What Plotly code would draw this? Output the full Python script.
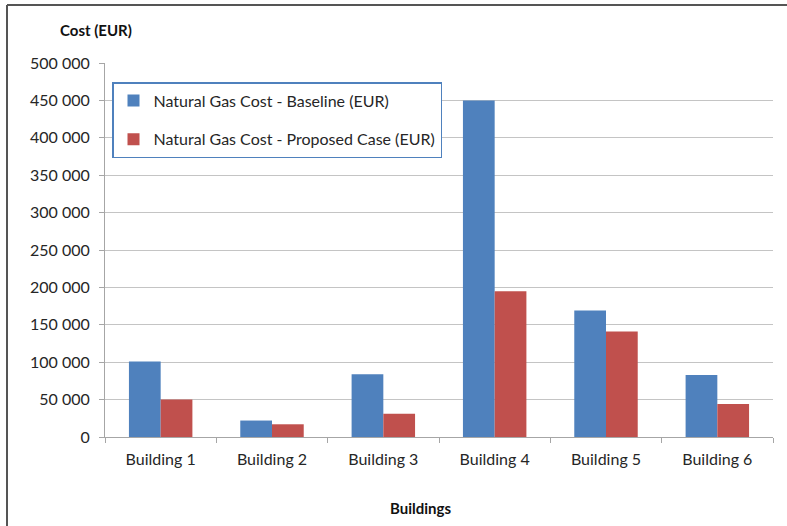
import plotly.graph_objects as go

categories = ["Building 1", "Building 2", "Building 3", "Building 4", "Building 5", "Building 6"]
baseline = [101000, 22000, 84000, 450000, 169000, 83000]
proposed = [50000, 17000, 31000, 195000, 141000, 44000]
series_names = ["Natural Gas Cost - Baseline (EUR)", "Natural Gas Cost - Proposed Case (EUR)"]
y_ticks = [0, 50000, 100000, 150000, 200000, 250000, 300000, 350000, 400000, 450000, 500000]

FONT = "Lato"
W, H = 787, 526
L, R, T, B = 105, 14, 63, 89
pw, ph = W - L - R, H - T - B

def px_x(p):
    return (p - L) / pw

def px_y(p):
    return 1 - (p - T) / ph

fig = go.Figure()
fig.add_trace(go.Bar(x=categories, y=baseline, name=series_names[0],
                     marker=dict(color="#4F81BD", line=dict(width=0)), legendgroup="a"))
fig.add_trace(go.Bar(x=categories, y=proposed, name=series_names[1],
                     marker=dict(color="#C0504D", line=dict(width=0)), legendgroup="b"))

fig.update_layout(
    width=W, height=H,
    margin=dict(l=L, r=R, t=T, b=B),
    paper_bgcolor="white", plot_bgcolor="white",
    barmode="group", bargap=0.43, bargroupgap=0,
    separators=". ",
    font=dict(family=FONT, size=16, color="#262626"),
    showlegend=True,
    legend=dict(x=px_x(112), y=px_y(82), xanchor="left", yanchor="top",
                bgcolor="white", bordercolor="#4F81BD", borderwidth=1.5,
                font=dict(family=FONT, size=16, color="#262626"),
                tracegroupgap=15, traceorder="grouped"),
    xaxis=dict(showgrid=False, showline=True, linecolor="#A6A6A6", linewidth=1,
               ticks="outside", tickson="boundaries", ticklen=5, tickcolor="#A6A6A6",
               ticklabelstandoff=8,
               tickfont=dict(family=FONT, size=16, color="#262626")),
    yaxis=dict(range=[0, 500000], tickvals=y_ticks, tickformat=",d",
               showgrid=True, gridcolor="#C4C4C4", gridwidth=1,
               showline=True, linecolor="#A6A6A6", linewidth=1,
               ticks="outside", ticklen=5, tickcolor="#A6A6A6",
               ticklabelstandoff=6,
               zeroline=False,
               tickfont=dict(family=FONT, size=16, color="#262626")),
    annotations=[
        dict(text="<b>Cost (EUR)</b>", xref="paper", yref="paper",
             x=px_x(96), y=px_y(30), xanchor="center", yanchor="middle",
             showarrow=False, font=dict(family=FONT, size=15, color="#111")),
        dict(text="<b>Buildings</b>", xref="paper", yref="paper",
             x=px_x(420), y=px_y(508), xanchor="center", yanchor="middle",
             showarrow=False, font=dict(family=FONT, size=15, color="#111")),
    ],
    shapes=[
        dict(type="line", xref="paper", yref="paper", x0=px_x(7), x1=px_x(7),
             y0=px_y(5), y1=px_y(530), line=dict(color="#555", width=2)),
        dict(type="line", xref="paper", yref="paper", x0=px_x(7), x1=px_x(790),
             y0=px_y(5), y1=px_y(5), line=dict(color="#555", width=2)),
    ],
)

fig.write_html("out.html")
